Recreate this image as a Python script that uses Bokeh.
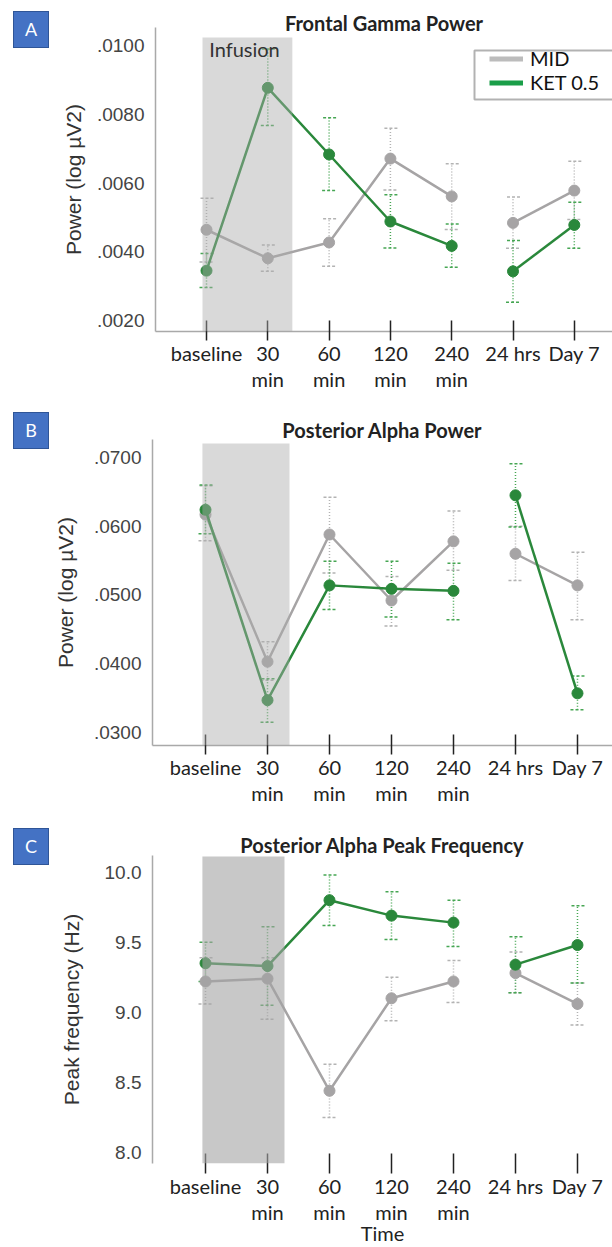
from bokeh.plotting import figure
from bokeh.layouts import column, row
from bokeh.models import (Range1d, FixedTicker, CustomJSTickFormatter, BoxAnnotation,
                          Label, Whisker, TeeHead, ColumnDataSource, Legend, LegendItem, Div)
from bokeh.embed import file_html
from bokeh.resources import INLINE

# ---------------- data ----------------
time_labels = ["baseline", "30\nmin", "60\nmin", "120\nmin", "240\nmin", "24 hrs", "Day 7"]

# Panel A: Frontal Gamma Power
a_mid = [0.00464, 0.00381, 0.00427, 0.00671, 0.00561, 0.00484, 0.00578]
a_mid_hi = [0.00556, 0.00420, 0.00496, 0.00759, 0.00656, 0.00559, 0.00663]
a_mid_lo = [0.00370, 0.00343, 0.00358, 0.00580, 0.00465, 0.00410, 0.00494]
a_ket = [0.00345, 0.00877, 0.00683, 0.00488, 0.00417, 0.00343, 0.00478]
a_ket_hi = [0.00395, 0.00990, 0.00790, 0.00566, 0.00481, 0.00433, 0.00544]
a_ket_lo = [0.00296, 0.00767, 0.00578, 0.00411, 0.00355, 0.00253, 0.00410]
a_yticks = [0.0020, 0.0040, 0.0060, 0.0080, 0.0100]

# Panel B: Posterior Alpha Power
b_mid = [0.0617, 0.0403, 0.0588, 0.0492, 0.0578, 0.0560, 0.0514]
b_mid_hi = [0.0659, 0.0432, 0.0642, 0.0527, 0.0622, 0.0600, 0.0562]
b_mid_lo = [0.0579, 0.0376, 0.0532, 0.0455, 0.0536, 0.0521, 0.0464]
b_ket = [0.0624, 0.0347, 0.0514, 0.0509, 0.0506, 0.0645, 0.0357]
b_ket_hi = [0.0660, 0.0378, 0.0549, 0.0549, 0.0546, 0.0691, 0.0382]
b_ket_lo = [0.0589, 0.0315, 0.0479, 0.0468, 0.0464, 0.0599, 0.0333]
b_yticks = [0.0300, 0.0400, 0.0500, 0.0600, 0.0700]

# Panel C: Posterior Alpha Peak Frequency
c_mid = [9.22, 9.24, 8.44, 9.10, 9.22, 9.28, 9.06]
c_mid_hi = [9.39, 9.39, 8.63, 9.25, 9.37, 9.43, 9.21]
c_mid_lo = [9.06, 8.95, 8.25, 8.94, 9.07, 9.14, 8.91]
c_ket = [9.35, 9.33, 9.80, 9.69, 9.64, 9.34, 9.48]
c_ket_hi = [9.50, 9.61, 9.98, 9.86, 9.80, 9.54, 9.76]
c_ket_lo = [9.22, 9.05, 9.62, 9.52, 9.47, 9.14, 9.21]
c_yticks = [8.0, 8.5, 9.0, 9.5, 10.0]

series_names = ["MID", "KET 0.5"]

# ---------------- styles ----------------
GRAY = "#a6a4a5"
GREEN = "#2a883b"
GRAY_ERR = "#b3b3b3"
GREEN_ERR = "#46a653"
CAL = "Lato"
ARIAL = "Liberation Sans"
LW = 50          # width of the letter strip
W = 612 - LW     # width of each chart


def letter_strip(h, letter, top_px):
    html = ('<div style="position:absolute; left:13px; top:%dpx; width:36px; height:37px; '
            'box-sizing:border-box; background:#4472c4; border:1px solid #2f5597; '
            'color:white; font-family:Lato, sans-serif; font-size:18px; '
            'display:flex; align-items:center; justify-content:center;">%s</div>'
            % (top_px, letter))
    return Div(text=html, width=LW, height=h, margin=(0, 0, 0, 0),
               styles={"position": "relative", "overflow": "visible"})


def build(h, top, bottom, left, xr, yr, yticks, decimals, title, title_standoff, ylab, ystand,
          series, shade, shade_color, shade_alpha, xline=True, tick_in=11, tick_out=9):
    p = figure(width=W, height=h, x_range=Range1d(*xr), y_range=Range1d(*yr),
               output_backend="svg", toolbar_location=None,
               min_border_top=top, min_border_bottom=bottom, min_border_left=left,
               min_border_right=0)
    p.title.text = title
    p.title.align = "center"
    p.title.standoff = title_standoff
    p.title.text_font = CAL
    p.title.text_font_style = "bold"
    p.title.text_font_size = "20px"
    p.title.text_color = "#222222"
    p.outline_line_color = None
    p.grid.visible = False
    p.background_fill_color = "white"
    p.border_fill_color = "white"

    # x axis
    xa = p.xaxis[0]
    xa.ticker = FixedTicker(ticks=list(range(len(time_labels))))
    xa.major_label_overrides = {i: t for i, t in enumerate(time_labels)}
    xa.axis_line_color = "#a9a9a9" if xline else None
    xa.axis_line_width = 1.5
    xa.major_tick_line_color = "#222222"
    xa.major_tick_line_width = 1.5
    xa.major_tick_in = tick_in
    xa.major_tick_out = tick_out
    xa.minor_tick_line_color = None
    xa.major_label_text_font = CAL
    xa.major_label_text_font_size = "20px"
    xa.major_label_text_color = "#222222"
    xa.major_label_text_line_height = 1.1
    xa.major_label_standoff = 0

    # y axis
    ya = p.yaxis[0]
    ya.ticker = FixedTicker(ticks=yticks)
    ya.formatter = CustomJSTickFormatter(
        code="return tick.toFixed(%d).replace(/^0\\./, '.');" % decimals)
    ya.major_tick_line_color = None
    ya.minor_tick_line_color = None
    ya.axis_line_color = "#a9a9a9"
    ya.axis_line_width = 1.5
    ya.major_label_text_font = ARIAL
    ya.major_label_text_font_size = "19px"
    ya.major_label_text_color = "#444444"
    ya.major_label_standoff = 5
    ya.axis_label = ylab
    ya.axis_label_text_font = ARIAL
    ya.axis_label_text_font_size = "21px"
    ya.axis_label_text_font_style = "normal"
    ya.axis_label_text_color = "#333333"
    ya.axis_label_standoff = ystand

    x = list(range(len(time_labels)))
    for (mean, hi, lo, col, ecol) in series:
        src = ColumnDataSource(dict(x=x, y=mean, upper=hi, lower=lo))
        wh = Whisker(source=src, base="x", upper="upper", lower="lower",
                     line_color=ecol, line_width=1.5, line_dash="1 2",
                     upper_head=TeeHead(size=14, line_color=ecol, line_width=1.5, line_dash="3 2"),
                     lower_head=TeeHead(size=14, line_color=ecol, line_width=1.5, line_dash="3 2"),
                     level="underlay")
        p.add_layout(wh)
        p.line(x[:5], mean[:5], line_color=col, line_width=2.5)
        p.line(x[5:], mean[5:], line_color=col, line_width=2.5)
        p.scatter(x, mean, size=11, fill_color=col, line_color=col)

    # infusion shading (drawn on top, translucent)
    sl, sr, st = shade
    p.add_layout(BoxAnnotation(left=sl, right=sr, top=st, fill_color=shade_color,
                               fill_alpha=shade_alpha, line_color=None))
    return p


hA, hB, hC = 409, 416, 422

# Panel A
pA = build(h=hA, top=27, bottom=78, left=105, xr=(-0.832, 6.623), yr=(0.00168, 0.010524),
           yticks=a_yticks, decimals=4, title="Frontal Gamma Power", title_standoff=-14,
           ylab="Power (log \u00b5V2)", ystand=9,
           series=[(a_mid, a_mid_hi, a_mid_lo, GRAY, GRAY_ERR),
                   (a_ket, a_ket_hi, a_ket_lo, GREEN, GREEN_ERR)],
           shade=(-0.065, 1.40, 0.010233), shade_color="#aaaaaa", shade_alpha=0.45)
pA.add_layout(Label(x=89, y=283, x_units="screen", y_units="screen", text="Infusion",
                    text_align="center", text_baseline="middle", text_font=CAL,
                    text_font_size="20px", text_color="#333333"))
# legend
pA.add_layout(BoxAnnotation(left=319, right=470, top=281, bottom=232,
                            left_units="screen", right_units="screen",
                            top_units="screen", bottom_units="screen",
                            fill_color="white", fill_alpha=1, line_color="black",
                            line_width=2, level="underlay"))
nan = float("nan")
leg_mid = pA.line(x=[0, 1], y=[nan, nan], line_color="#bcbcbc", line_width=5)
leg_ket = pA.line(x=[0, 1], y=[nan, nan], line_color="#1a9e48", line_width=5)
legend = Legend(items=[LegendItem(label=series_names[0], renderers=[leg_mid]),
                       LegendItem(label=series_names[1], renderers=[leg_ket])],
                location=(334, 237), padding=0, margin=0, spacing=0,
                glyph_width=34, glyph_height=21, label_height=21, label_standoff=7,
                border_line_alpha=0, background_fill_alpha=0,
                label_text_font=CAL, label_text_font_size="20px", label_text_color="#111111")
pA.add_layout(legend)

# Panel B
pB = build(h=hB, top=30, bottom=80, left=102, xr=(-0.855, 6.565), yr=(0.028109, 0.072618),
           yticks=b_yticks, decimals=4, title="Posterior Alpha Power", title_standoff=-4,
           ylab="Power (log \u00b5V2)", ystand=14,
           series=[(b_mid, b_mid_hi, b_mid_lo, GRAY, GRAY_ERR),
                   (b_ket, b_ket_hi, b_ket_lo, GREEN, GREEN_ERR)],
           shade=(-0.05, 1.355, 0.07204), shade_color="#aaaaaa", shade_alpha=0.45)

# Panel C
pC = build(h=hC, top=30, bottom=79, left=102, xr=(-0.855, 6.565), yr=(7.921, 10.119),
           yticks=c_yticks, decimals=1, title="Posterior Alpha Peak Frequency",
           title_standoff=-2, ylab="Peak frequency (Hz)", ystand=19,
           series=[(c_mid, c_mid_hi, c_mid_lo, GRAY, GRAY_ERR),
                   (c_ket, c_ket_hi, c_ket_lo, GREEN, GREEN_ERR)],
           shade=(-0.05, 1.274, 10.112), shade_color="#a3a3a3", shade_alpha=0.6,
           xline=False, tick_in=10, tick_out=10)
pC.xaxis[0].axis_label = "Time"
pC.xaxis[0].axis_label_text_font = CAL
pC.xaxis[0].axis_label_text_font_size = "20px"
pC.xaxis[0].axis_label_text_font_style = "normal"
pC.xaxis[0].axis_label_text_color = "#222222"
pC.xaxis[0].axis_label_standoff = -6

sA = letter_strip(hA, "A", 11)
sB = letter_strip(hB, "B", 3)
sC = letter_strip(hC, "C", 3)

layout = column(row(sA, pA, spacing=0), row(sB, pB, spacing=0), row(sC, pC, spacing=0),
                spacing=0)
open("out.html", "w").write(file_html(layout, INLINE))
